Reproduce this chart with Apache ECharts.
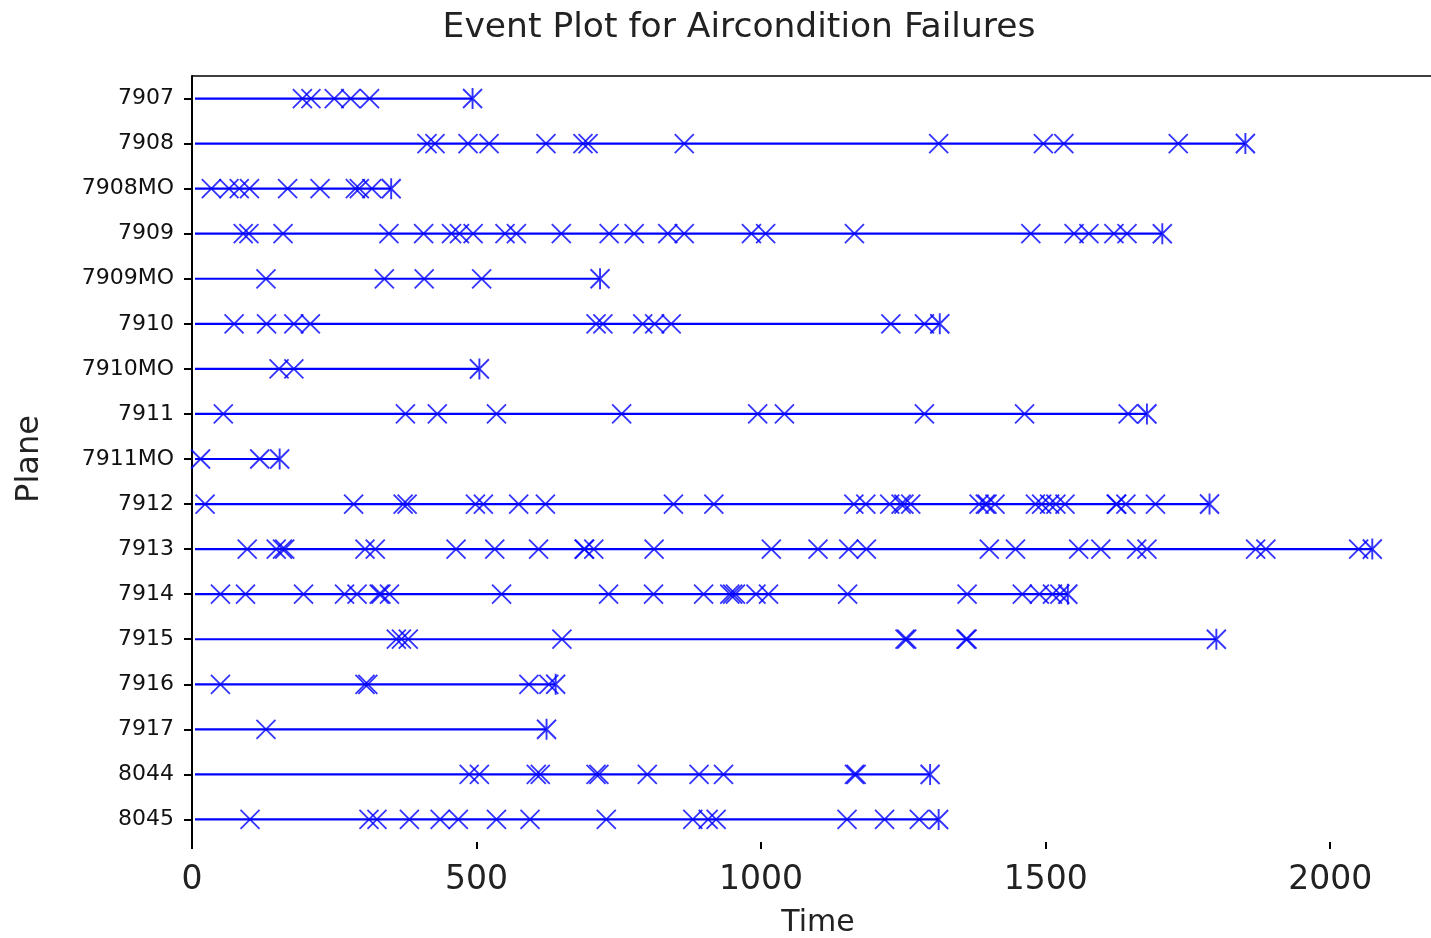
<!DOCTYPE html>
<html>
<head>
<meta charset="utf-8">
<title>Event Plot for Aircondition Failures</title>
<script src="https://cdn.jsdelivr.net/npm/echarts@6/dist/echarts.min.js"></script>
<style>
  html, body { margin: 0; padding: 0; background: #fff; }
  #chart { width: 1431px; height: 938px; }
</style>
</head>
<body>
<div id="chart"></div>
<script>
// planes, top to bottom
const planes = ['7907', '7908', '7908MO', '7909', '7909MO', '7910', '7910MO', '7911',
    '7911MO', '7912', '7913', '7914', '7915', '7916', '7917', '8044', '8045'];

// failure times per plane
const failureTimes = [
    [194, 209, 250, 279, 312],
    [413, 427, 485, 522, 622, 687, 696, 865, 1312, 1496, 1532, 1733],
    [34, 65, 83, 101, 168, 225, 287, 294, 316],
    [90, 100, 160, 346, 407, 456, 470, 494, 550, 570, 649, 733, 777, 836, 865, 983, 1008,
        1164, 1474, 1550, 1576, 1620, 1643],
    [130, 338, 408, 509],
    [74, 131, 179, 208, 710, 722, 792, 813, 842, 1228, 1287],
    [153, 179],
    [55, 375, 431, 535, 755, 994, 1041, 1287, 1463, 1645],
    [15, 119],
    [23, 284, 371, 378, 498, 512, 574, 621, 846, 917, 1163, 1184, 1226, 1246, 1251, 1263,
        1383, 1394, 1397, 1411, 1482, 1493, 1507, 1518, 1534, 1624, 1625, 1641, 1693],
    [97, 148, 159, 163, 304, 322, 464, 532, 609, 689, 690, 706, 812, 1018, 1100, 1154, 1185,
        1401, 1447, 1558, 1597, 1660, 1678, 1869, 1887, 2050],
    [50, 94, 196, 268, 290, 329, 332, 347, 544, 732, 811, 899, 945, 950, 955, 991, 1013,
        1152, 1362, 1459, 1489, 1512, 1525],
    [359, 368, 380, 650, 1253, 1256, 1360, 1362],
    [50, 304, 309, 592, 627],
    [130],
    [487, 505, 605, 612, 710, 715, 800, 891, 934, 1164, 1167],
    [102, 311, 325, 382, 436, 468, 535, 594, 728, 880, 907, 921, 1151, 1217, 1278]
];

// last observed time per plane (marked with *)
const endTimes = [493, 1851, 350, 1705, 717, 1314, 505, 1678, 154, 1788, 2074, 1539, 1800,
    639, 623, 1297, 1312];

const xTicks = [0, 500, 1000, 1500, 2000];

const BLUE = '#0000ff';
const FONT = 'DejaVu Sans';

const spanData = planes.map((p, i) => [0, endTimes[i], i]);
const failData = [];
failureTimes.forEach((times, i) => {
    times.forEach(t => failData.push([t, i]));
});
const endData = endTimes.map((t, i) => [t, i]);

const chart = echarts.init(document.getElementById('chart'));
chart.setOption({
    animation: false,
    backgroundColor: '#fff',
    title: {
        text: 'Event Plot for Aircondition Failures',
        left: 734,
        textAlign: 'center',
        top: 6,
        textStyle: { fontFamily: FONT, fontSize: 34.5, fontWeight: 'normal', color: '#222' }
    },
    grid: {
        left: 192, top: 76, width: 1252, bottom: 96,
        outerBoundsMode: 'none', containLabel: false
    },
    xAxis: [
        {
            type: 'value',
            min: 0, max: 2200, interval: 500,
            name: 'Time',
            nameLocation: 'middle',
            nameGap: 66,
            nameTextStyle: { fontFamily: FONT, fontSize: 30, color: '#222' },
            axisLine: { lineStyle: { color: '#000', width: 2 } },
            axisTick: { show: true, length: 7, lineStyle: { color: '#000', width: 2 } },
            splitLine: { show: false },
            axisLabel: {
                fontFamily: FONT, fontSize: 33, color: '#222', margin: 22,
                formatter: v => xTicks.includes(v) ? String(v) : ''
            }
        },
        {
            // top frame line only
            type: 'value',
            position: 'top',
            min: 0, max: 2200,
            axisLine: { show: true, onZero: false, lineStyle: { color: '#000', width: 1.5 } },
            axisTick: { show: false },
            axisLabel: { show: false },
            splitLine: { show: false }
        }
    ],
    yAxis: {
        type: 'category',
        data: planes,
        inverse: true,
        name: 'Plane',
        nameLocation: 'middle',
        nameGap: 146,
        nameRotate: 90,
        nameTextStyle: { fontFamily: FONT, fontSize: 32, color: '#222' },
        axisLine: { lineStyle: { color: '#000', width: 2 } },
        axisTick: { show: true, alignWithLabel: true, length: 8, lineStyle: { color: '#000', width: 2 } },
        axisLabel: { fontFamily: FONT, fontSize: 22, color: '#111', margin: 18 },
        splitLine: { show: false }
    },
    series: [
        {
            type: 'custom',
            data: spanData,
            encode: { x: [0, 1], y: 2 },
            renderItem(params, api) {
                const s = api.coord([api.value(0), api.value(2)]);
                const e = api.coord([api.value(1), api.value(2)]);
                return {
                    type: 'line',
                    shape: { x1: s[0] + 3, y1: s[1], x2: e[0], y2: e[1] },
                    style: { stroke: BLUE, lineWidth: 2.2 }
                };
            },
            z: 2
        },
        {
            type: 'scatter',
            data: failData,
            symbol: 'path://M0,0L20,20M20,0L0,20',
            symbolSize: [19, 19],
            itemStyle: { color: 'none', borderColor: BLUE, borderWidth: 1.8, opacity: 0.8 },
            z: 3
        },
        {
            type: 'scatter',
            data: endData,
            symbol: 'path://M0,1L20,21M20,1L0,21M10,0L10,22',
            symbolSize: [19, 21],
            itemStyle: { color: 'none', borderColor: BLUE, borderWidth: 2 },
            z: 4
        }
    ]
});
</script>
</body>
</html>
